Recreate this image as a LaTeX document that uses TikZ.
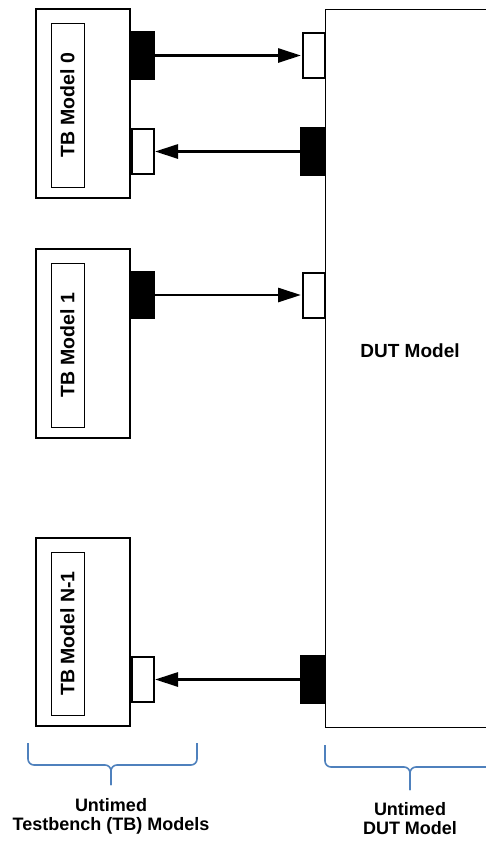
\documentclass[tikz,border=0pt]{standalone}
\usepackage{fontspec}
\setmainfont{Liberation Sans}
\usetikzlibrary{arrows.meta}
\definecolor{bracecol}{RGB}{79,129,189}
\tikzset{
  tbbox/.style={draw=black, line width=2pt, fill=white, inner sep=0pt, minimum width=94pt},
  tbinner/.style={draw=black, line width=1pt, fill=white, inner sep=0pt, minimum width=33pt,
     font=\fontsize{19.5}{19.5}\selectfont\bfseries},
  portout/.style={draw=black, line width=1.5pt, fill=black, inner sep=0pt, minimum width=24pt, minimum height=47pt},
  portin/.style={draw=black, line width=2pt, fill=white, inner sep=0pt, minimum width=22pt, minimum height=45pt},
  link/.style={line width=2.8pt, -{Triangle[length=23pt,width=14pt]}, shorten >=0.5pt},
  bracepath/.style={draw=bracecol, line width=1.6pt, rounded corners=6pt},
  lbl/.style={font=\fontsize{18}{19}\selectfont\bfseries, align=center, inner sep=0pt}
}
\begin{document}
\begin{tikzpicture}[x=1pt,y=-1pt]
\clip (0,0) rectangle (486,841);
\fill[white] (0,0) rectangle (486,841);

% DUT
\node[draw=black, line width=1pt, fill=white, inner sep=0pt, minimum width=166pt, minimum height=718pt] (dut) at (408,368) {};
\node[font=\fontsize{19}{19}\selectfont\bfseries, inner sep=0pt] (dutlbl) at (410,351) {DUT Model};

% TB models
\node[tbbox, minimum height=189pt] (tb0) at (83,103.5) {};
\node[tbinner, minimum height=164pt] (tb0i) at (67.5,105) {\rotatebox{90}{TB Model 0}};
\node[tbbox, minimum height=189pt] (tb1) at (83,343.5) {};
\node[tbinner, minimum height=164pt] (tb1i) at (67.5,345) {\rotatebox{90}{TB Model 1}};
\node[tbbox, minimum height=188pt] (tbn) at (83,632) {};
\node[tbinner, minimum height=163pt] (tbni) at (67.5,633.5) {\rotatebox{90}{TB Model N-1}};

% ports
\node[portout] (p0o) at (142.5,55.5) {};
\node[portin]  (d0i) at (313.5,55.5) {};
\node[portin]  (p0i) at (142.5,151.5) {};
\node[portout] (d0o) at (313,151.5) {};
\node[portout] (p1o) at (142.5,295) {};
\node[portin]  (d1i) at (313.5,295) {};
\node[portin]  (pni) at (142.5,679.5) {};
\node[portout] (dno) at (313,679.5) {};

% connectors
\draw[link] (p0o.east) -- (d0i.west);
\draw[link] (d0o.west) -- (p0i.east);
\draw[link] (p1o.east) -- (d1i.west);
\draw[link] (dno.west) -- (pni.east);

% braces
\coordinate (lbl1) at (28,743);
\coordinate (lbr1) at (197,743);
\coordinate (lbt) at (111,785);
\draw[bracepath] (lbl1) -- (28,765) -- (111,765) -- (lbt);
\draw[bracepath] (lbr1) -- (197,765) -- (111,765) -- (lbt);
\coordinate (rbl1) at (325,745);
\coordinate (rbr1) at (495,745);
\coordinate (rbt) at (410,790);
\draw[bracepath] (rbl1) -- (325,767) -- (410,767) -- (rbt);
\draw[bracepath] (rbr1) -- (495,767) -- (410,767) -- (rbt);

% labels
\node[lbl, anchor=north] (tbtxt) at (111,798) {Untimed\\Testbench (TB) Models};
\node[lbl, anchor=north] (duttxt) at (410,802) {Untimed\\DUT Model};
\end{tikzpicture}
\end{document}
